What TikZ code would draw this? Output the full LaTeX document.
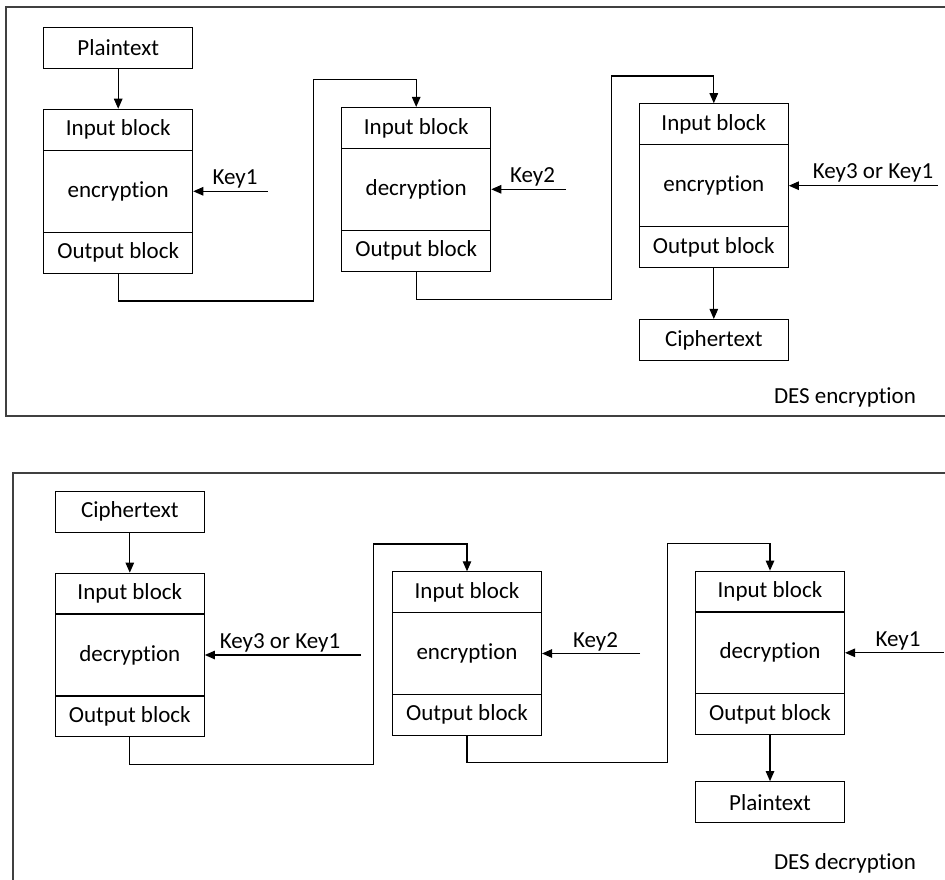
\documentclass[tikz,border=0pt]{standalone}
\usepackage{fontspec}
\setmainfont{Carlito}[Ligatures={NoCommon}]
\usetikzlibrary{arrows.meta}
\tikzset{
  sect/.style={draw=black, line width=1.1pt, minimum width=149pt, inner sep=0pt, font=\fontsize{23}{27}\selectfont},
  sec41/.style={sect, minimum height=41pt},
  sec82/.style={sect, minimum height=82pt},
  lbl/.style={inner sep=0pt, anchor=base, font=\fontsize{23}{27}\selectfont},
  conn/.style={draw=black, line width=1.1pt},
  arr/.style={conn, -{Triangle[length=10pt,width=8.5pt]}},
  frame/.style={draw=black!75, line width=1.4pt}
}
\begin{document}
\begin{tikzpicture}[x=1pt,y=-1pt]
\useasboundingbox (0,0) rectangle (945,880);
\fill[white] (0,0) rectangle (945,880);
% frames
\coordinate (f1a) at (945,7);
\coordinate (f1b) at (6,7);
\coordinate (f1c) at (6,416);
\coordinate (f1d) at (945,416);
\draw[frame] (f1a) -- (f1b) -- (f1c) -- (f1d);
\coordinate (f2a) at (945,473);
\coordinate (f2b) at (13,473);
\coordinate (f2c) at (13,880);
\draw[frame] (f2a) -- (f2b) -- (f2c);

% ---------- DES encryption ----------
\node[sec41] (tp) at (118.2,47.8) {Plaintext};
\node[sec41] (t1in) at (118.2,129.8) {Input block};
\node[sec82] (t1mid) at (118.2,191.3) {encryption};
\node[sec41] (t1out) at (118.2,252.8) {Output block};

\node[sec41] (t2in) at (416.2,128) {Input block};
\node[sec82] (t2mid) at (416.2,189.3) {decryption};
\node[sec41] (t2out) at (416.2,250.6) {Output block};

\node[sec41] (t3in) at (713.8,124.3) {Input block};
\node[sec82] (t3mid) at (713.8,185.7) {encryption};
\node[sec41] (t3out) at (713.8,247.1) {Output block};
\node[sec41] (tc) at (713.8,340) {Ciphertext};

\draw[arr] (tp) -- (t1in);
\draw[arr] (t1out.south) |- (313.3,301) -- (313.3,79.3) -| (t2in.north);
\draw[arr] (t2out.south) |- (611.7,299.3) -- (611.7,76) -| (t3in.north);
\draw[arr] (t3out) -- (tc);

\coordinate (tk1) at (267.7,191.3);
\coordinate (tk2) at (566,189.3);
\coordinate (tk3) at (937.7,185.7);
\draw[arr] (tk1) -- (t1mid.east);
\draw[arr] (tk2) -- (t2mid.east);
\draw[arr] (tk3) -- (t3mid.east);
\node[lbl] (tl1) at (235,184.5) {Key1};
\node[lbl] (tl2) at (532.5,182.5) {Key2};
\node[lbl] (tl3) at (873,178.5) {Key3 or Key1};
\node[lbl] (tdes) at (845,403.5) {DES encryption};

% ---------- DES decryption ----------
\node[sec41] (bc) at (129.8,511.7) {Ciphertext};
\node[sec41] (b1in) at (129.8,593.7) {Input block};
\node[sec82] (b1mid) at (129.8,655) {decryption};
\node[sec41] (b1out) at (129.8,716.3) {Output block};

\node[sec41] (b2in) at (467,592.3) {Input block};
\node[sec82] (b2mid) at (467,653.5) {encryption};
\node[sec41] (b2out) at (467,714.7) {Output block};

\node[sec41] (b3in) at (770,591.7) {Input block};
\node[sec82] (b3mid) at (770,652.8) {decryption};
\node[sec41] (b3out) at (770,714.2) {Output block};
\node[sec41] (bp) at (770,802.2) {Plaintext};

\draw[arr] (bc) -- (b1in);
\draw[arr] (b1out.south) |- (373.7,764.3) -- (373.7,544) -| (b2in.north);
\draw[arr] (b2out.south) |- (667.3,762.7) -- (667.3,543.3) -| (b3in.north);
\draw[arr] (b3out) -- (bp);

\coordinate (bk1) at (361,655);
\coordinate (bk2) at (640,653.5);
\coordinate (bk3) at (943.5,652.8);
\draw[arr] (bk1) -- (b1mid.east);
\draw[arr] (bk2) -- (b2mid.east);
\draw[arr] (bk3) -- (b3mid.east);
\node[lbl] (bl1) at (280,648) {Key3 or Key1};
\node[lbl] (bl2) at (595.5,647.5) {Key2};
\node[lbl] (bl3) at (898,646.5) {Key1};
\node[lbl] (bdes) at (845,869.5) {DES decryption};
\end{tikzpicture}
\end{document}
